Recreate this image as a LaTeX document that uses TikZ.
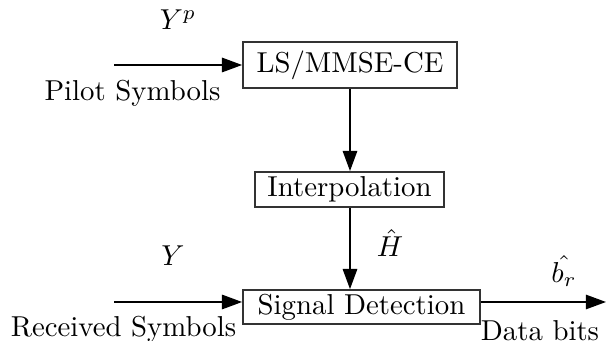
\documentclass[tikz,border=0pt]{standalone}
\usepackage{amsmath,amssymb}
\usepackage{xcolor}
\usepackage{tikz}
\usetikzlibrary{arrows.meta,calc,positioning}
\tikzset{
  bloque/.style={draw=black!80,semithick,inner sep=0pt},
  flecha/.style={-{Triangle[length=7pt,width=5pt]},semithick}
}

\begin{document}
\begin{tikzpicture}[x=0.3472pt,y=-0.3472pt]
\useasboundingbox (0,0) rectangle (608,341);
\node[bloque,minimum width=74.3pt,minimum height=16pt] (ce) at (350,65){LS/MMSE-CE};
\node[bloque,minimum width=65.6pt,minimum height=12.2pt] (interp) at (349.5,189.5){Interpolation};
\node[bloque,minimum width=82.3pt,minimum height=11.8pt] (det) at (361.5,307){Signal Detection};
\coordinate (pin) at (114,65); \coordinate (rin) at (114,302); \coordinate (dout) at (606,302);
\draw[flecha] (pin)--(ce.west);
\draw[flecha] (ce.south)--(ce.south |- interp.north);
\draw[flecha] (ce.south |- interp.south)--(ce.south |- det.north);
\draw[flecha] (rin)--(rin -| det.west);
\draw[flecha] (det.east |- dout)--(dout);
\node (yp) at (178,20){$Y^p$}; \node (pil) at (132.5,93){Pilot Symbols};
\node (hest) at (390,243){$\hat{H}$};
\node (y) at (173,256){$Y$}; \node (rec) at (123.5,329){Received Symbols};
\node (bits) at (564,271){$\hat{b_r}$}; \node (datos) at (540,331){Data bits};
\end{tikzpicture}
\end{document}
